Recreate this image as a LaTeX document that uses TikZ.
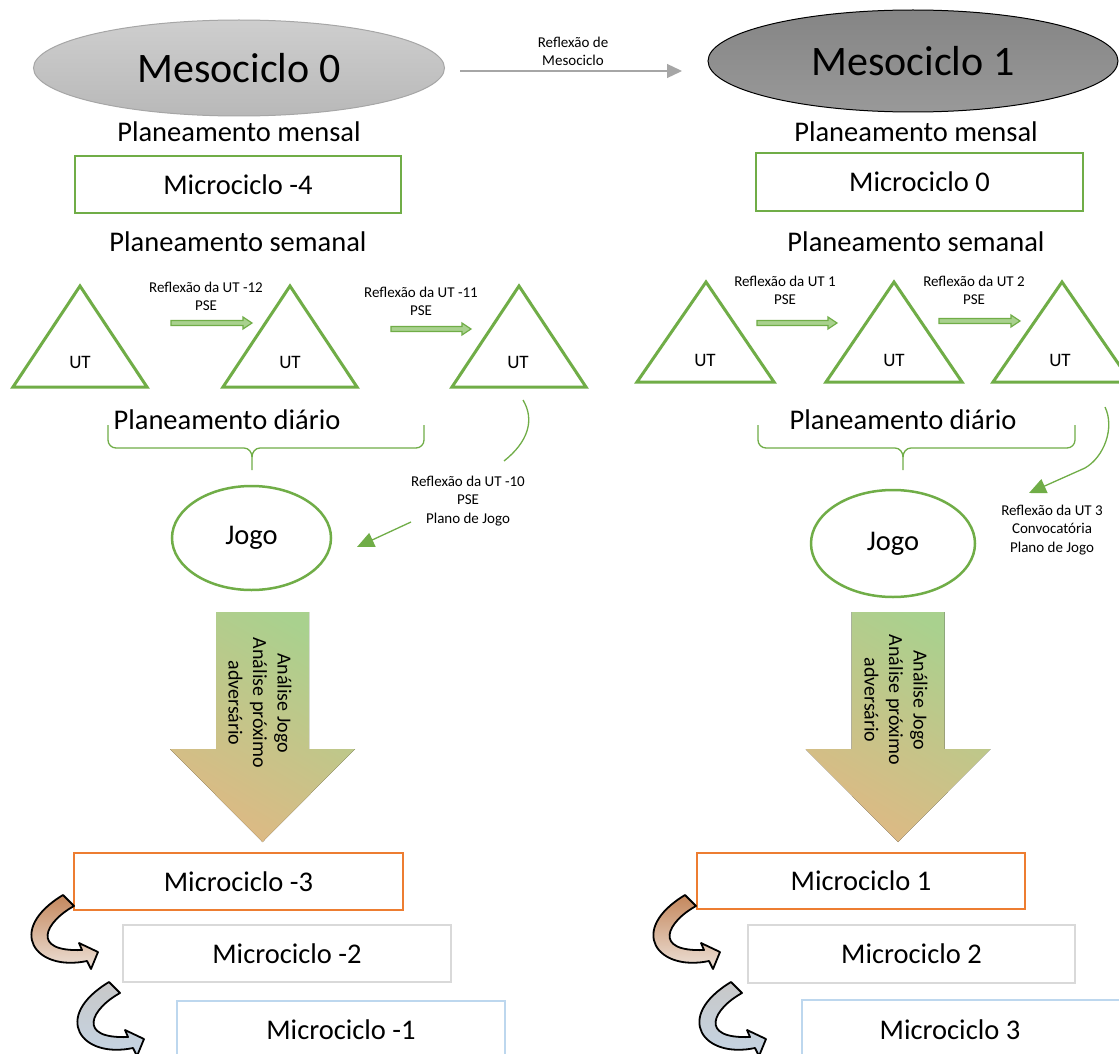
\documentclass[tikz,border=0pt]{standalone}
\usepackage{fontspec}
\setmainfont{Carlito}
\usetikzlibrary{arrows.meta,shapes.geometric}
\definecolor{grn}{RGB}{112,173,71}
\definecolor{lgrn}{RGB}{169,209,142}
\definecolor{tanc}{RGB}{222,185,132}
\definecolor{org}{RGB}{237,125,49}
\definecolor{lgray}{RGB}{217,217,217}
\definecolor{lblue}{RGB}{189,215,238}
\definecolor{arrgray}{RGB}{166,166,166}
\definecolor{brA}{RGB}{196,135,92}
\definecolor{brB}{RGB}{238,228,220}
\definecolor{gyA}{RGB}{200,200,200}
\definecolor{gyB}{RGB}{196,212,228}
\tikzset{
  bigtxt/.style={font=\fontsize{42}{50}\selectfont, inner sep=0pt},
  medtxt/.style={font=\fontsize{28.5}{34}\selectfont, inner sep=0pt},
  uttxt/.style={font=\fontsize{19}{23}\selectfont, inner sep=0pt},
  smalltxt/.style={font=\fontsize{15}{18.3}\selectfont, align=center, inner sep=0pt},
  arrtxt/.style={font=\fontsize{20}{24.5}\selectfont, align=center, inner sep=0pt, rotate=-90},
  boxnode/.style={draw, line width=2.5pt, font=\fontsize{28.5}{34}\selectfont, inner sep=0pt},
  tri/.style={draw=grn, line width=3pt, line join=miter},
  brc/.style={draw=grn, line width=1.3pt},
  conn/.style={draw=grn, line width=1.3pt},
  blockarr/.style={draw=grn, fill=lgrn, line width=1.2pt, line join=miter},
  curv/.style={draw=black, line width=1.8pt, line join=round},
}
\begin{document}
\begin{tikzpicture}[x=1pt,y=-1pt]
\clip (0,0) rectangle (1119,1054);
\fill[white] (0,0) rectangle (1119,1054);

% Mesociclo ellipses
\node[ellipse, draw=arrgray, line width=1pt, top color=lgray!95!black, bottom color=lgray!85!black,
      minimum width=411, minimum height=96, bigtxt] (m0) at (239,68) {Mesociclo 0};
\node[ellipse, draw=black, line width=1pt, top color=black!48, bottom color=black!40,
      minimum width=410, minimum height=102, bigtxt] (m1) at (913,61) {Mesociclo 1};
\coordinate (g1) at (460,71);
\coordinate (g2) at (682,71);
\draw[arrgray, line width=1.3pt, -{Triangle[length=15pt,width=14pt]}] (g1) -- (g2);
\node[smalltxt] (lm) at (573,51) {Reflexão de\\Mesociclo};

% Planeamento mensal
\node[medtxt] (pm0) at (239,132) {Planeamento mensal};
\node[medtxt] (pm1) at (916,132) {Planeamento mensal};
\node[boxnode, draw=grn, minimum width=326, minimum height=57] (mcm4) at (238,184.5) {Microciclo -4};
\node[boxnode, draw=grn, minimum width=327, minimum height=58] (mc0) at (919.5,182) {Microciclo 0};
\node[medtxt] (ps0) at (238,242) {Planeamento semanal};
\node[medtxt] (ps1) at (916,242) {Planeamento semanal};

% Triangles left
\draw[tri] (80,286) -- (147,387) -- (13,387) -- cycle;
\draw[tri] (290,286) -- (357,387) -- (223,387) -- cycle;
\draw[tri] (519,286) -- (586,387) -- (452,387) -- cycle;
\node[uttxt] (u1) at (80,362) {UT};
\node[uttxt] (u2) at (290,362) {UT};
\node[uttxt] (u3) at (518,362) {UT};
% Triangles right
\draw[tri] (706,282) -- (774,382) -- (637,382) -- cycle;
\draw[tri] (894,282) -- (962,382) -- (826,382) -- cycle;
\draw[tri] (1062,282) -- (1131,382) -- (993,382) -- cycle;
\node[uttxt] (u4) at (705,360) {UT};
\node[uttxt] (u5) at (894,360) {UT};
\node[uttxt] (u6) at (1060,360) {UT};

% small block arrows
\foreach \xa/\xb/\yy in {171/252/323, 391/471/329, 757/837/323, 939/1020/321}{
  \draw[blockarr] (\xa,\yy-2.5) -- (\xb-9,\yy-2.5) -- (\xb-9,\yy-6) -- (\xb,\yy) -- (\xb-9,\yy+6) -- (\xb-9,\yy+2.5) -- (\xa,\yy+2.5) -- cycle;
}
\node[smalltxt] (l1) at (206,296) {Reflexão da UT -12\\PSE};
\node[smalltxt] (l2) at (421,301) {Reflexão da UT -11\\PSE};
\node[smalltxt] (l3) at (785,290) {Reflexão da UT 1\\PSE};
\node[smalltxt] (l4) at (974,290) {Reflexão da UT 2\\PSE};

% Planeamento diario + braces
\node[medtxt] (pd0) at (227,420) {Planeamento diário};
\node[medtxt] (pd1) at (903,420) {Planeamento diário};
\foreach \xl/\xc/\xr in {108/252/424, 758/903/1075}{
  \draw[brc] (\xl,425) -- (\xl,440) to[out=-90,in=180] (\xl+8,448) -- (\xc-8,448) to[out=0,in=90] (\xc,457) -- (\xc,470);
  \draw[brc] (\xc,457) to[out=90,in=180] (\xc+8,448) -- (\xr-8,448) to[out=0,in=-90] (\xr,440) -- (\xr,425);
}

% Jogo
\node[ellipse, draw=grn, line width=2.5pt, minimum width=159, minimum height=104, medtxt] (j0) at (251.5,538) {Jogo};
\node[ellipse, draw=grn, line width=2.5pt, minimum width=164, minimum height=107, medtxt] (j1) at (893,543.5) {Jogo};

% reflection connectors
\coordinate (a0) at (523,400);
\coordinate (a1) at (504,461);
\coordinate (a2) at (411,522);
\coordinate (a3) at (357,547);
\draw[conn] (a0) .. controls (535,420) and (528,442) .. (a1);
\draw[conn, -{Triangle[length=17pt,width=15pt]}] (a2) -- (a3);
\node[smalltxt] (r10) at (468,501) {Reflexão da UT -10\\PSE\\Plano de Jogo};
\coordinate (b0) at (1105,407);
\coordinate (b1) at (1085,468);
\coordinate (b2) at (1029,493);
\draw[conn, -{Triangle[length=17pt,width=15pt]}] (b0) .. controls (1115,428) and (1104,457) .. (b1) -- (b2);
\node[smalltxt] (r3) at (1052,530) {Reflexão da UT 3\\Convocatória\\Plano de Jogo};

% big down arrows
\foreach \c in {262.5, 898}{
  \fill[top color=lgrn, bottom color=tanc, shading angle=-30]
    (\c-46.5,612) -- (\c+46.5,612) -- (\c+46.5,749) -- (\c+92.5,749) -- (\c,842) -- (\c-92.5,749) -- (\c-46.5,749) -- cycle;
}
\node[arrtxt] (t0) at (260,703) {Análise Jogo\\Análise próximo\\adversário};
\node[arrtxt] (t1) at (896,700) {Análise Jogo\\Análise próximo\\adversário};

% bottom boxes
\node[boxnode, draw=org, minimum width=329, minimum height=57] (mcm3) at (238.5,881.5) {Microciclo -3};
\node[boxnode, draw=lgray, minimum width=328, minimum height=57] (mcm2) at (287,953.5) {Microciclo -2};
\node[boxnode, draw=lblue, minimum width=328, minimum height=57] (mcm1) at (341,1029.5) {Microciclo -1};
\node[boxnode, draw=org, minimum width=328, minimum height=56] (mc1) at (861,881) {Microciclo 1};
\node[boxnode, draw=lgray, minimum width=327, minimum height=58] (mc2) at (911.5,954) {Microciclo 2};
\node[boxnode, draw=lblue, minimum width=328, minimum height=57] (mc3) at (966,1028.5) {};
\node[medtxt] (mc3t) at (950,1030) {Microciclo 3};

% curved arrows
\foreach \dx/\dy/\ca/\cb in {0/0/brA/brB, 46/87/gyA/gyB, 622/0/brA/brB, 668/87/gyA/gyB}{
  \begin{scope}[shift={(\dx,\dy)}]
  \draw[curv, top color=\ca, bottom color=\cb]
    (63,895) -- (74,906) .. controls (45,922) and (30,952) .. (82,950)
    -- (79,943) -- (98,952) -- (91,969) -- (87,961)
    .. controls (35,972) and (5,930) .. (63,895) -- cycle;
  \end{scope}
}
\end{tikzpicture}
\end{document}
